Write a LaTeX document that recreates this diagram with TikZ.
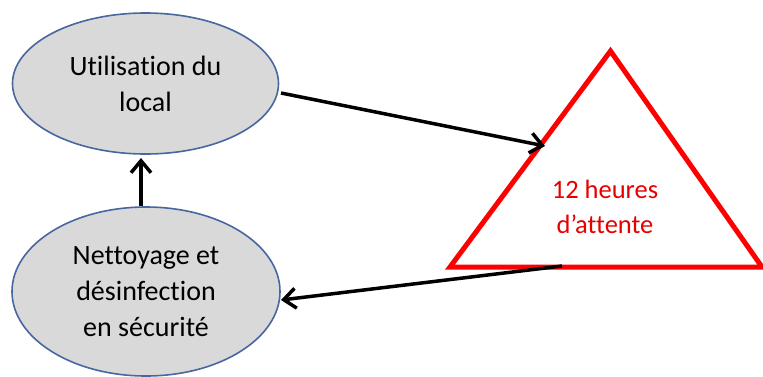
\documentclass[tikz,border=0pt]{standalone}
\usepackage{fontspec}
\setmainfont{Carlito}[Ligatures={NoCommon}]
\usetikzlibrary{shapes.geometric,arrows.meta}
\definecolor{ellfill}{RGB}{217,217,217}
\definecolor{ellborder}{RGB}{72,102,160}
\definecolor{tri}{RGB}{255,0,0}
\definecolor{tritext}{RGB}{230,0,0}
\tikzset{
  stage/.style={ellipse, draw=ellborder, fill=ellfill, line width=1.6pt, inner sep=0pt,
    align=center, font=\fontsize{28}{36}\selectfont, text=black},
  link/.style={line width=3.5pt, -{Straight Barb[length=12pt,width=20pt,line width=3.5pt]}},
}
\begin{document}
\begin{tikzpicture}[x=1pt,y=-1pt]
\useasboundingbox (0,0) rectangle (763,376);
\node[stage, minimum width=266pt, minimum height=141pt] (use) at (145.5,83.5) {Utilisation du\\local};
\node[stage, minimum width=268pt, minimum height=169pt] (clean) at (146,291.5) {Nettoyage et\\désinfection\\en sécurité};
\coordinate (apex) at (610.5,51);
\coordinate (bl) at (450,267);
\coordinate (br) at (762,267);
\draw[tri, line width=5pt, line join=miter] (bl) -- (apex) -- (br) -- cycle;
\node[align=center, text=tritext, font=\fontsize{26.5}{35}\selectfont] (wait) at (605,207) {12 heures\\d’attente};
\coordinate (in) at (545,146);
\coordinate (out) at (562,266);
\coordinate (useout) at (281,93);
\coordinate (cleanin) at (281,300);
\draw[link] (clean.north -| 141,0) -- (141,158);
\draw[link] (useout) -- (in);
\draw[link] (out) -- (cleanin);
\end{tikzpicture}
\end{document}
